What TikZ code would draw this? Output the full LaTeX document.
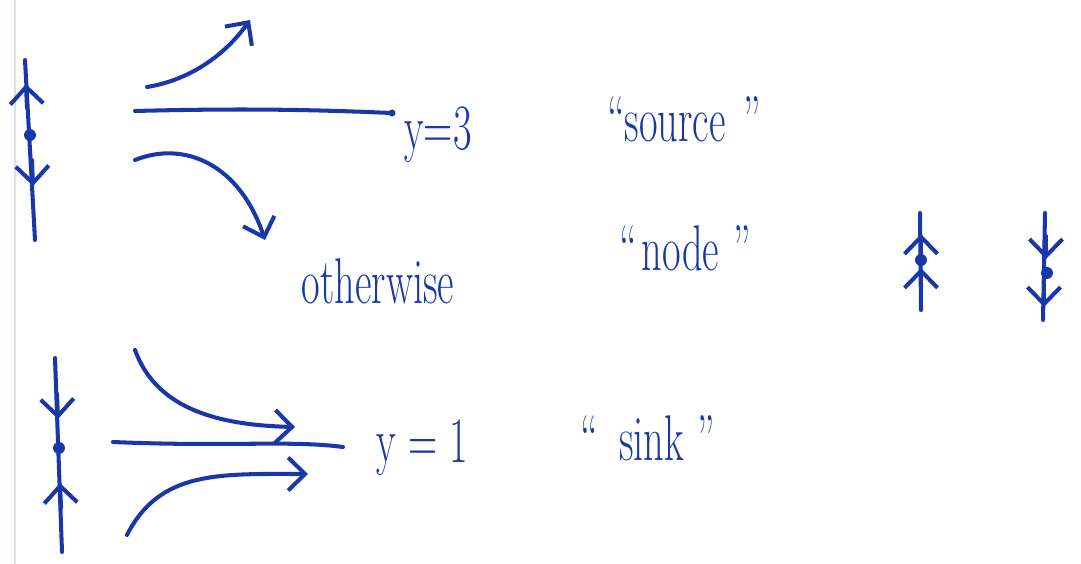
\documentclass[tikz,border=0pt]{standalone}
\usepackage{fontspec}
\usetikzlibrary{arrows.meta, calc}

\definecolor{ink}{RGB}{24,56,170}
\definecolor{marginline}{RGB}{226,218,242}

\begin{document}
\begin{tikzpicture}[x=0.02cm, y=-0.02cm,
  pen/.style={ink, line width=2.3pt, line cap=round, line join=round},
  barb/.style={pen, -{Straight Barb[length=3.4mm, width=6.6mm]}},
  word/.style={ink, font=\fontsize{23}{28}\selectfont\addfontfeatures{FakeBold=1.2},
               inner sep=0pt, yscale=1.6, transform shape}]

%% ============================================================
%% page: 1081 x 564 px, one unit = one pixel (y grows downward)
%% ============================================================
\useasboundingbox (0,0) rectangle (1081,564);
\fill[white] (0,0) rectangle (1081,564);

%% notebook margin
\draw[marginline, line width=1.2pt] (15,0) -- (15,564);

%% ---- Labels ----
\node[word, anchor=base west] (lblThree) at (404,150) {y=3};
\node[word, anchor=base west] (lblOne) at (376,462) {y = 1};
\node[word, anchor=base] (oth) at (378,303) {otherwise};
\node[word, anchor=base] (src) at (684,142) {``source\hspace{10pt}''};
\node[word, anchor=base] (nde) at (685,270) {``\hspace{3pt}node\hspace{8pt}''};
\node[word, anchor=base] (snk) at (648,460) {``\hspace{12pt}sink\hspace{8pt}''};

%% ---- Source: phase line at y=3 (arrows away from the dot) ----
\draw[pen] (25,60) -- (35,240);
\draw[barb] (27,108) -- (26,84);
\draw[barb] (32,160) -- (33,186);
\fill[ink] (30,135) circle (3.4pt);

%% curves leaving y=3
\draw[barb] (147,87) .. controls (190,80) and (225,55) .. (250,20);
\coordinate (endThree) at (392,113);
\draw[pen] (135,111) .. controls (250,108) and (320,110) .. (endThree);
\fill[ink] (endThree) circle (2pt);
\draw[barb] (135,160) .. controls (185,140) and (240,165) .. (265,240);

%% ---- Sink: phase line at y=1 (arrows into the dot) ----
\draw[pen] (55,358) -- (62,552);
\draw[barb] (57,394) -- (58,419);
\draw[barb] (61,508) -- (60,483);
\fill[ink] (59,448) circle (3.4pt);

%% curves approaching y=1
\draw[barb] (135,350) .. controls (155,405) and (210,425) .. (295,427);
\draw[pen] (113,442) .. controls (230,447) and (290,440) .. (343,447);
\draw[barb] (127,535) .. controls (160,470) and (220,474) .. (308,474);

%% ---- Node symbols (both arrows the same way) ----
% upward
\draw[pen] (920,213) -- (921,310);
\draw[barb] (921,256) -- (921,234);
\draw[barb] (921,290) -- (921,268);
\fill[ink] (921,260) circle (3.4pt);
% downward
\draw[pen] (1045,213) -- (1043,320);
\draw[barb] (1046,236) -- (1046,259);
\draw[barb] (1044,284) -- (1044,307);
\fill[ink] (1047,273) circle (3.4pt);

\end{tikzpicture}
\end{document}
